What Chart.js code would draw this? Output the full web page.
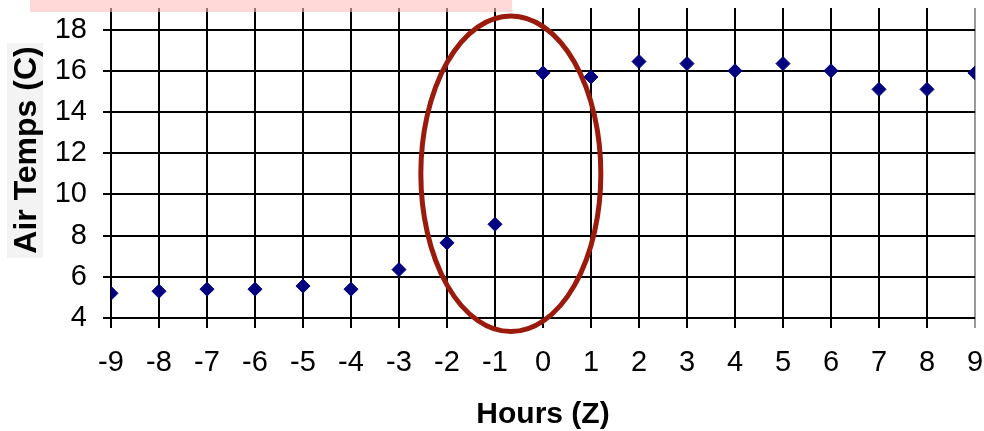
<!DOCTYPE html>
<html>
<head>
<meta charset="utf-8">
<script src="https://cdn.jsdelivr.net/npm/chart.js@4/dist/chart.umd.min.js"></script>
<style>
  html, body { margin: 0; padding: 0; background: #fff; }
  #wrap { width: 984px; height: 431px; }
</style>
</head>
<body>
<div id="wrap"><canvas id="tempChart"></canvas></div>
<script>
/* ---------- data ---------- */
const hours = [-9, -8, -7, -6, -5, -4, -3, -2, -1, 0, 1, 2, 3, 4, 5, 6, 7, 8, 9];
const airTemps = [5.2, 5.3, 5.4, 5.4, 5.55, 5.4, 6.35, 7.65, 8.55, 15.9, 15.7, 16.45, 16.35, 16.0, 16.35, 16.0, 15.1, 15.1, 15.9];
const yTickValues = [4, 6, 8, 10, 12, 14, 16, 18];
// circled region (data units): center hour / temp, half-width / half-height
const circleCenter = [-0.67, 11.0];
const circleRadii = [1.875, 7.66];

const FONT = "'Liberation Sans', Arial, sans-serif";

/* ---------- extra drawing: ellipse, banner, y title ---------- */
const overlay = {
  id: "overlay",
  beforeDatasetsDraw(chart) {
    const { ctx, scales: { x, y } } = chart;
    const cx = x.getPixelForValue(circleCenter[0]);
    const cy = y.getPixelForValue(circleCenter[1]);
    const rx = Math.abs(x.getPixelForValue(circleCenter[0] + circleRadii[0]) - cx);
    const ry = Math.abs(y.getPixelForValue(circleCenter[1] + circleRadii[1]) - cy);
    ctx.save();
    ctx.strokeStyle = "#9a1b0b";
    ctx.lineWidth = 5;
    ctx.beginPath();
    ctx.ellipse(cx, cy, rx, ry, 0, 0, Math.PI * 2);
    ctx.stroke();
    ctx.restore();
  },
  afterDraw(chart) {
    const { ctx } = chart;
    ctx.save();
    // pink banner cut off at top
    ctx.fillStyle = "rgba(255,190,190,0.6)";
    ctx.fillRect(30, 0, 482, 12);
    // y axis title
    ctx.fillStyle = "#f3f3f3";
    ctx.fillRect(7, 43, 36, 215);
    ctx.translate(27, 150);
    ctx.rotate(-Math.PI / 2);
    ctx.fillStyle = "#000";
    ctx.font = "bold 32px " + FONT;
    ctx.textAlign = "center";
    ctx.textBaseline = "middle";
    ctx.fillText("Air Temps (C)", 0, 0);
    ctx.restore();
  }
};

new Chart(document.getElementById("tempChart"), {
  type: "scatter",
  data: {
    datasets: [{
      label: "Air Temps",
      data: hours.map((h, i) => ({ x: h, y: airTemps[i] })),
      pointStyle: "rectRot",
      pointRadius: 7,
      pointHoverRadius: 7,
      backgroundColor: "#000080",
      borderColor: "#000080",
      borderWidth: 1,
    }],
  },
  options: {
    responsive: true,
    maintainAspectRatio: false,
    animation: false,
    layout: { padding: { top: 0, right: 9, bottom: 0, left: 0 } },
    plugins: { legend: { display: false }, tooltip: { enabled: false } },
    scales: {
      x: {
        type: "linear",
        min: -9,
        max: 9,
        afterFit: s => {
          s.height = 113;
          s.paddingLeft = 0;
          s.paddingRight = 0;
        },
        ticks: { stepSize: 1, color: "#000", font: { family: FONT, size: 29 }, padding: 18, maxRotation: 0 },
        grid: {
          color: c => (c.tick && c.tick.value === 9 ? "#999" : "#000"),
          lineWidth: 2,
          tickLength: 10,
        },
        border: { display: false },
        title: {
          display: true,
          text: "Hours (Z)",
          color: "#000",
          font: { family: FONT, size: 30, weight: "bold", lineHeight: 1.1 },
          padding: { top: 0, bottom: 0 },
        },
      },
      y: {
        min: 4,
        max: 19.05,
        afterFit: s => {
          s.width = 111;
          s.paddingTop = 0;
          s.paddingBottom = 0;
        },
        afterBuildTicks: s => { s.ticks = yTickValues.map(v => ({ value: v })); },
        ticks: { color: "#000", font: { family: FONT, size: 29 }, padding: 16 },
        grid: { color: "#000", lineWidth: 2, tickLength: 8 },
        border: { display: false },
      },
    },
  },
  plugins: [overlay],
});
</script>
</body>
</html>
